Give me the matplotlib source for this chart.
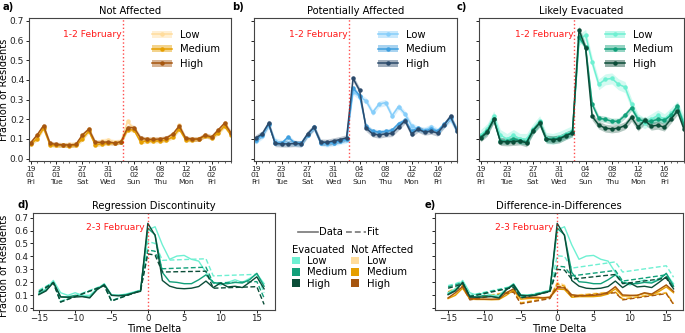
import matplotlib
matplotlib.use("Agg")
import matplotlib.pyplot as plt
from matplotlib.lines import Line2D
from matplotlib.patches import Patch

# ---------------- data ----------------
days = list(range(32))  # 19 Jan 2018 ... 19 Feb 2018
tick_days = [0, 4, 8, 12, 16, 20, 24, 28]
tick_labels = ["19\n01\nFri", "23\n01\nTue", "27\n01\nSat", "31\n01\nWed",
               "04\n02\nSun", "08\n02\nThu", "12\n02\nMon", "16\n02\nFri"]
event_day = 14.3
levels = ["Low", "Medium", "High"]

na_low = [0.08, 0.11, 0.16, 0.075, 0.07, 0.07, 0.072, 0.075, 0.11, 0.15, 0.075, 0.09, 0.095,
          0.085, 0.09, 0.19, 0.15, 0.10, 0.10, 0.10, 0.10, 0.10, 0.12, 0.17, 0.10, 0.10, 0.10,
          0.12, 0.11, 0.14, 0.18, 0.13]
na_med = [0.075, 0.10, 0.155, 0.07, 0.068, 0.068, 0.066, 0.068, 0.10, 0.14, 0.07, 0.075, 0.078,
          0.08, 0.083, 0.148, 0.145, 0.085, 0.09, 0.09, 0.09, 0.095, 0.11, 0.15, 0.095, 0.095, 0.10,
          0.115, 0.105, 0.13, 0.165, 0.12]
na_high = [0.08, 0.12, 0.168, 0.078, 0.072, 0.07, 0.07, 0.072, 0.12, 0.15, 0.083, 0.083, 0.085,
           0.08, 0.086, 0.158, 0.158, 0.105, 0.098, 0.098, 0.10, 0.105, 0.125, 0.166, 0.103, 0.10,
           0.10, 0.12, 0.11, 0.145, 0.18, 0.13]

pa_low = [0.09, 0.115, 0.17, 0.09, 0.08, 0.08, 0.078, 0.075, 0.12, 0.155, 0.08, 0.075, 0.08,
          0.088, 0.095, 0.34, 0.315, 0.294, 0.235, 0.277, 0.285, 0.218, 0.265, 0.227, 0.168,
          0.15, 0.145, 0.16, 0.14, 0.17, 0.20, 0.14]
pa_med = [0.095, 0.12, 0.175, 0.08, 0.078, 0.11, 0.08, 0.078, 0.122, 0.16, 0.082, 0.078, 0.082,
          0.09, 0.098, 0.36, 0.32, 0.165, 0.14, 0.135, 0.138, 0.145, 0.178, 0.195, 0.14, 0.155,
          0.14, 0.15, 0.14, 0.175, 0.21, 0.15]
pa_high = [0.105, 0.125, 0.18, 0.077, 0.075, 0.075, 0.077, 0.075, 0.126, 0.16, 0.084, 0.083, 0.09,
           0.097, 0.106, 0.408, 0.347, 0.155, 0.126, 0.12, 0.126, 0.128, 0.16, 0.193, 0.126, 0.15,
           0.135, 0.14, 0.13, 0.17, 0.215, 0.14]

ev_low = [0.12, 0.15, 0.215, 0.12, 0.10, 0.12, 0.10, 0.10, 0.15, 0.19, 0.105, 0.10, 0.11,
          0.125, 0.14, 0.604, 0.629, 0.49, 0.378, 0.403, 0.408, 0.378, 0.364, 0.277, 0.20,
          0.18, 0.20, 0.22, 0.20, 0.23, 0.265, 0.19]
ev_med = [0.11, 0.14, 0.20, 0.09, 0.088, 0.10, 0.092, 0.085, 0.145, 0.185, 0.10, 0.10, 0.105,
          0.12, 0.135, 0.618, 0.567, 0.277, 0.205, 0.20, 0.19, 0.19, 0.22, 0.258, 0.20, 0.19,
          0.19, 0.20, 0.195, 0.22, 0.27, 0.17]
ev_high = [0.105, 0.134, 0.20, 0.087, 0.085, 0.087, 0.09, 0.08, 0.143, 0.181, 0.10, 0.096, 0.10,
           0.117, 0.131, 0.655, 0.562, 0.215, 0.171, 0.155, 0.151, 0.155, 0.168, 0.21, 0.16,
           0.195, 0.165, 0.17, 0.16, 0.20, 0.243, 0.15]

# confidence half-widths (per series)
na_ci = [0.012, 0.010, 0.012]
pa_ci = [0.016, 0.012, 0.016]
ev_ci = [0.028, 0.016, 0.020]

# bottom row
time_delta = list(range(-15, 17))
rd_fit_low = [0.14, 0.17, 0.20, 0.055, 0.075, 0.096, 0.117, 0.138, 0.159, 0.18, 0.06, 0.08, 0.10,
              0.12, 0.14, 0.515, 0.50, 0.37, 0.372, 0.374, 0.376, 0.378, 0.38, 0.382, 0.25, 0.252,
              0.254, 0.256, 0.258, 0.26, 0.262, 0.12]
rd_fit_med = [0.13, 0.165, 0.20, 0.05, 0.071, 0.092, 0.113, 0.134, 0.155, 0.176, 0.058, 0.078,
              0.098, 0.118, 0.138, 0.45, 0.44, 0.305, 0.307, 0.309, 0.311, 0.313, 0.315, 0.317,
              0.195, 0.197, 0.199, 0.20, 0.202, 0.204, 0.206, 0.08]
rd_fit_high = [0.125, 0.16, 0.195, 0.048, 0.069, 0.09, 0.111, 0.132, 0.153, 0.174, 0.056, 0.076,
               0.096, 0.116, 0.136, 0.42, 0.41, 0.28, 0.281, 0.282, 0.283, 0.284, 0.285, 0.286,
               0.155, 0.157, 0.159, 0.161, 0.163, 0.165, 0.167, 0.03]

did_ev_low = [0.175, 0.19, 0.21, 0.10, 0.112, 0.124, 0.136, 0.148, 0.16, 0.172, 0.09, 0.102,
              0.114, 0.126, 0.138, 0.405, 0.40, 0.31, 0.318, 0.326, 0.334, 0.342, 0.35, 0.358,
              0.28, 0.288, 0.296, 0.304, 0.312, 0.32, 0.328, 0.24]
did_ev_med = [0.165, 0.18, 0.20, 0.095, 0.107, 0.119, 0.131, 0.143, 0.155, 0.167, 0.085, 0.097,
              0.109, 0.121, 0.133, 0.325, 0.32, 0.25, 0.257, 0.264, 0.271, 0.278, 0.285, 0.292,
              0.21, 0.218, 0.226, 0.234, 0.242, 0.25, 0.258, 0.17]
did_ev_high = [0.155, 0.17, 0.19, 0.09, 0.102, 0.114, 0.126, 0.138, 0.15, 0.162, 0.08, 0.092,
               0.104, 0.116, 0.128, 0.30, 0.295, 0.225, 0.231, 0.237, 0.243, 0.249, 0.255, 0.261,
               0.19, 0.197, 0.204, 0.211, 0.218, 0.225, 0.232, 0.15]
did_na_low = [0.13, 0.155, 0.18, 0.075, 0.085, 0.095, 0.105, 0.115, 0.125, 0.135, 0.045, 0.055,
              0.065, 0.075, 0.085, 0.20, 0.18, 0.10, 0.105, 0.11, 0.115, 0.12, 0.125, 0.13, 0.075,
              0.083, 0.091, 0.099, 0.107, 0.115, 0.123, 0.04]
did_na_med = [0.125, 0.15, 0.175, 0.07, 0.08, 0.09, 0.10, 0.11, 0.12, 0.13, 0.04, 0.05, 0.06,
              0.07, 0.08, 0.19, 0.17, 0.095, 0.10, 0.105, 0.11, 0.115, 0.12, 0.125, 0.07, 0.078,
              0.086, 0.094, 0.102, 0.11, 0.118, 0.035]
did_na_high = [0.12, 0.145, 0.17, 0.065, 0.075, 0.085, 0.095, 0.105, 0.115, 0.125, 0.035, 0.045,
               0.055, 0.065, 0.075, 0.17, 0.16, 0.09, 0.095, 0.10, 0.105, 0.11, 0.115, 0.12,
               0.065, 0.073, 0.081, 0.089, 0.097, 0.105, 0.113, 0.03]

# ---------------- style ----------------
na_colors = ["#ffdc9c", "#e69f00", "#a6560f"]
pa_colors = ["#87cefa", "#3f9fdf", "#2b4a6b"]
ev_colors = ["#6ef0d2", "#12a07a", "#0b4d38"]
W, H = 685, 333
ytick_vals = [0.0, 0.1, 0.2, 0.3, 0.4, 0.5, 0.6, 0.7]
ytick_text = ["0.0", "0.1", "0.2", "0.3", "0.4", "0.5", "0.6", "0.7"]

plt.rcParams["font.family"] = ["DejaVu Sans"]
fig = plt.figure(figsize=(W / 100, H / 100), dpi=100)


def px_axes(l, t, r, b):
    return fig.add_axes([l / W, 1 - b / H, (r - l) / W, (b - t) / H])


def style_axes(ax):
    for s in ax.spines.values():
        s.set_color("#444444")
        s.set_linewidth(0.8)
    ax.tick_params(colors="#222222", width=0.7, length=2.2, pad=1.3)


top_specs = [
    ("a)", "Not Affected", [na_low, na_med, na_high], na_colors, na_ci, (29, 231)),
    ("b)", "Potentially Affected", [pa_low, pa_med, pa_high], pa_colors, pa_ci, (254, 457)),
    ("c)", "Likely Evacuated", [ev_low, ev_med, ev_high], ev_colors, ev_ci, (479, 684)),
]

for i, (tag, title, series, cols, cis, (l, r)) in enumerate(top_specs):
    ax = px_axes(l, 18, r, 161)
    style_axes(ax)
    handles = []
    for vals, c, ci, lab in zip(series, cols, cis, levels):
        lo = [v - ci for v in vals]
        hi = [v + ci for v in vals]
        ax.fill_between(days, lo, hi, color=c, alpha=0.3, lw=0)
        ln, = ax.plot(days, vals, color=c, lw=1.1, marker="o", ms=2.2)
        handles.append((Patch(facecolor=c, alpha=0.45, lw=0), ln))
    ax.axvline(event_day, color="red", ls=":", lw=1.0, alpha=0.7)
    ax.text(event_day - 0.2, 0.63, "1-2 February", color="red", fontsize=6.6,
            ha="right", va="center", alpha=0.9)
    ax.set_xlim(-0.25, 31)
    ax.set_ylim(-0.012, 0.715)
    ax.set_xticks(tick_days)
    ax.set_xticklabels(tick_labels, fontsize=5.4, linespacing=1.1)
    ax.set_xticks(days, minor=True)
    ax.tick_params(axis="x", which="minor", length=1.5, width=0.6, colors="#444444")
    ax.set_yticks(ytick_vals)
    if i == 0:
        ax.set_yticklabels(ytick_text, fontsize=6.5)
        ax.set_ylabel("Fraction of Residents", fontsize=7.0)
        ax.yaxis.set_label_coords(-0.097, 0.5)
    else:
        ax.set_yticklabels([])
    ax.set_title(title, fontsize=7.2, pad=3)
    ax.text(-0.13 if i == 0 else -0.11, 1.08, tag, transform=ax.transAxes,
            fontsize=7.2, fontweight="bold", ha="left", va="center")
    ax.legend(handles, levels, loc="upper right", bbox_to_anchor=(0.99, 0.98),
              frameon=False, fontsize=7.2, handlelength=2.0, labelspacing=0.45,
              handletextpad=0.8)

# ---------------- bottom row ----------------
ev_series = [ev_low, ev_med, ev_high]
rd_fits = [rd_fit_low, rd_fit_med, rd_fit_high]
na_series = [na_low, na_med, na_high]
did_ev_fits = [did_ev_low, did_ev_med, did_ev_high]
did_na_fits = [did_na_low, did_na_med, did_na_high]

axd = px_axes(33, 213, 275, 310)
axe = px_axes(435, 213, 683, 310)
for ax in (axd, axe):
    style_axes(ax)

for vals, fit, c in zip(ev_series, rd_fits, ev_colors):
    axd.plot(time_delta, vals, color=c, lw=1.0)
    axd.plot(time_delta, fit, color=c, lw=1.0, ls=(0, (3.5, 1.8)))

for vals, fit, c in zip(na_series, did_na_fits, na_colors):
    axe.plot(time_delta, vals, color=c, lw=1.0)
    axe.plot(time_delta, fit, color=c, lw=1.0, ls=(0, (3.5, 1.8)))
for vals, fit, c in zip(ev_series, did_ev_fits, ev_colors):
    axe.plot(time_delta, vals, color=c, lw=1.0)
    axe.plot(time_delta, fit, color=c, lw=1.0, ls=(0, (3.5, 1.8)))

for ax, title, xl in ((axd, "Regression Discontinuity", (-15.8, 17.5)),
                      (axe, "Difference-in-Differences", (-16.8, 17.3))):
    ax.axvline(0, color="red", ls=":", lw=1.0, alpha=0.7)
    ax.text(-0.5, 0.62, "2-3 February", color="red", fontsize=6.6, ha="right",
            va="center", alpha=0.9)
    ax.set_xlim(*xl)
    ax.set_ylim(-0.013, 0.735)
    ax.set_xticks([-15, -10, -5, 0, 5, 10, 15])
    ax.set_xticklabels(["\u221215", "\u221210", "\u22125", "0", "5", "10", "15"], fontsize=6.2)
    ax.tick_params(axis="x", pad=1)
    ax.set_yticks(ytick_vals)
    ax.set_xlabel("Time Delta", fontsize=7.2, labelpad=0.5)
    ax.set_title(title, fontsize=7.2, pad=3)

axd.set_yticklabels(ytick_text, fontsize=6.4)
axd.set_ylabel("Fraction of Residents", fontsize=7.0)
axd.yaxis.set_label_coords(-0.098, 0.45)
axe.set_yticklabels([])
fig.text(17 / W, 1 - 205 / H, "d)", fontsize=7.2, fontweight="bold", va="center")
fig.text(425 / W, 1 - 205 / H, "e)", fontsize=7.2, fontweight="bold", va="center")

# ---------------- central legend ----------------
style_handles = [Line2D([], [], color="#777777", lw=1.2),
                 Line2D([], [], color="#777777", lw=1.2, ls=(0, (3.5, 1.8)))]
fig.legend(style_handles, ["Data", "Fit"], loc="center", ncol=2,
           bbox_to_anchor=(338 / W, 1 - 232 / H), frameon=False, fontsize=7.2,
           handlelength=2.0, handletextpad=0.1, columnspacing=0.3)

ev_h = [Patch(facecolor=c, lw=0) for c in ev_colors]
na_h = [Patch(facecolor=c, lw=0) for c in na_colors]
for hs, ttl, x0 in ((ev_h, "Evacuated", 291), (na_h, "Not Affected", 350)):
    fig.legend(hs, levels, loc="upper left", bbox_to_anchor=(x0 / W, 1 - 244 / H),
               frameon=False, fontsize=7.2, title=ttl, title_fontsize=7.2,
               alignment="left", handlelength=0.75, handleheight=0.75,
               handletextpad=0.8, labelspacing=0.12, borderaxespad=0,
               borderpad=0.1)

fig.savefig("out.png", dpi=100)
